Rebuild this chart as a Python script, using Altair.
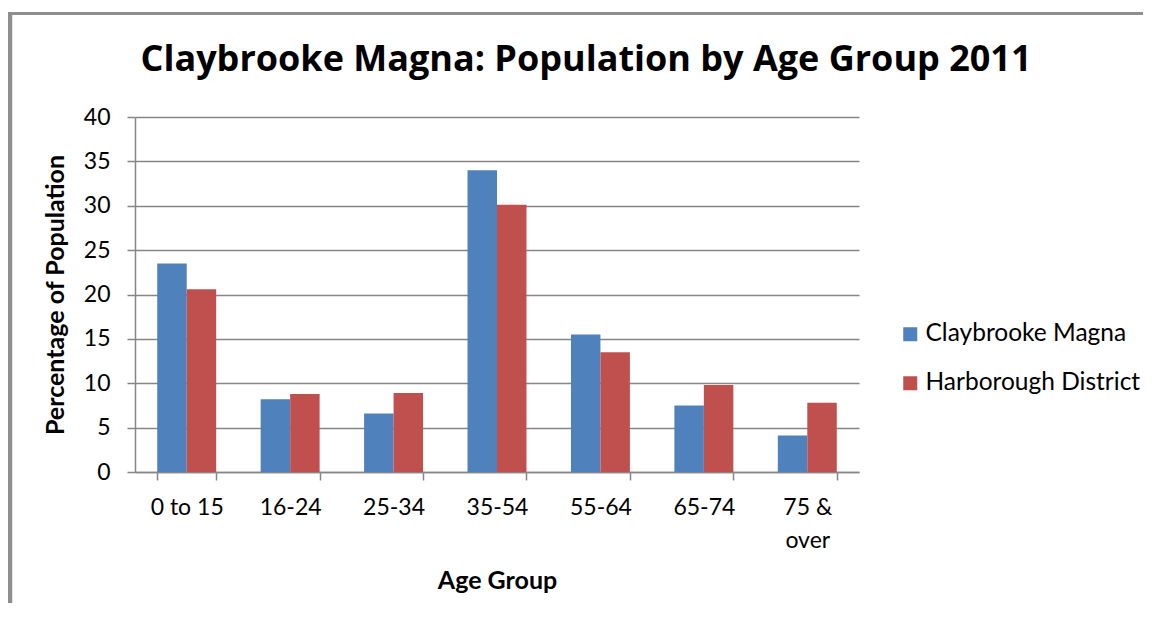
import altair as alt
import pandas as pd

# ---- data ----
age_groups = ["0 to 15", "16-24", "25-34", "35-54", "55-64", "65-74", "75 & over"]
claybrooke_magna = [23.5, 8.2, 6.6, 34.0, 15.5, 7.5, 4.1]
harborough_district = [20.6, 8.8, 8.9, 30.1, 13.5, 9.8, 7.8]
series_names = ["Claybrooke Magna", "Harborough District"]
series_colors = ["#4F81BD", "#C0504D"]
y_ticks = [0, 5, 10, 15, 20, 25, 30, 35, 40]

rows = []
for i, g in enumerate(age_groups):
    rows.append({"group": g, "series": series_names[0], "value": claybrooke_magna[i]})
    rows.append({"group": g, "series": series_names[1], "value": harborough_district[i]})
df = pd.DataFrame(rows)

FONT = "Lato"
TITLE_FONT = "Open Sans"
GRAY = "#868686"
FRAME = "#8E8E8E"

PLOT_W = 724
PLOT_H = 355

bars = alt.Chart(df).mark_bar().encode(
    x=alt.X(
        "group:N",
        sort=age_groups,
        title="Age Group",
        scale=alt.Scale(paddingInner=0.43, paddingOuter=0.215),
        axis=alt.Axis(
            labelAngle=0,
            tickBand="extent",
            ticks=True,
            tickSize=8,
            tickColor=GRAY,
            tickWidth=1.5,
            domainColor=GRAY,
            domainWidth=1.5,
            grid=False,
            labelFont=FONT,
            labelFontSize=23,
            labelColor="black",
            labelPadding=34,
            labelBaseline="alphabetic",
            labelLineHeight=33,
            labelExpr="datum.label == '75 & over' ? ['75 &', 'over'] : datum.label",
            titleFont=FONT,
            titleFontSize=25,
            titleFontWeight="bold",
            titleColor="black",
            titleBaseline="alphabetic",
            titleY=116,
        ),
    ),
    xOffset=alt.XOffset(
        "series:N", sort=series_names,
        scale=alt.Scale(paddingInner=0, paddingOuter=0),
    ),
    y=alt.Y(
        "value:Q",
        title="Percentage of Population",
        scale=alt.Scale(domain=[0, 40], nice=False),
        axis=alt.Axis(
            values=y_ticks,
            grid=True,
            gridColor=GRAY,
            gridWidth=1.5,
            domainColor=GRAY,
            domainWidth=1.5,
            tickColor=GRAY,
            tickWidth=1.5,
            tickSize=8,
            labelFont=FONT,
            labelFontSize=23,
            labelColor="black",
            labelPadding=17,
            titleFont=FONT,
            titleFontSize=25,
            titleFontWeight="bold",
            titleColor="black",
            titleBaseline="alphabetic",
            titleX=-72,
            titleY=PLOT_H / 2,
        ),
    ),
    color=alt.Color(
        "series:N",
        sort=series_names,
        scale=alt.Scale(domain=series_names, range=series_colors),
        legend=alt.Legend(
            orient="none",
            legendX=763,
            legendY=205,
            title=None,
            symbolType="square",
            symbolSize=196,
            symbolStrokeWidth=0,
            symbolOpacity=1,
            labelFont=FONT,
            labelFontSize=24.5,
            labelColor="black",
            labelOffset=3,
            labelLimit=400,
            rowPadding=24,
            padding=0,
        ),
    ),
)

frame_data = alt.Data(values=[{"k": 1}])
frame_left = alt.Chart(frame_data).mark_rule(color=FRAME, strokeWidth=4.5).encode(
    x=alt.value(-125), y=alt.value(-105), y2=alt.value(560)
)
frame_top = alt.Chart(frame_data).mark_rule(color=FRAME, strokeWidth=3).encode(
    x=alt.value(-127), x2=alt.value(1100), y=alt.value(-103.5)
)

chart = alt.layer(bars, frame_left, frame_top).properties(
    width=PLOT_W,
    height=PLOT_H,
    autosize=alt.AutoSizeParams(type="none"),
    padding={"left": 127, "top": 109, "right": 284, "bottom": 131},
    background="white",
    title=alt.TitleParams(
        text="Claybrooke Magna: Population by Age Group 2011",
        font=TITLE_FONT,
        fontSize=36,
        fontWeight="bold",
        color="black",
        anchor="middle",
        frame="group",
        baseline="alphabetic",
        offset=0,
        dy=97,
        dx=89,
    ),
).configure_view(stroke=None)

chart.save("out.html", embed_options={"renderer": "svg", "actions": False})
